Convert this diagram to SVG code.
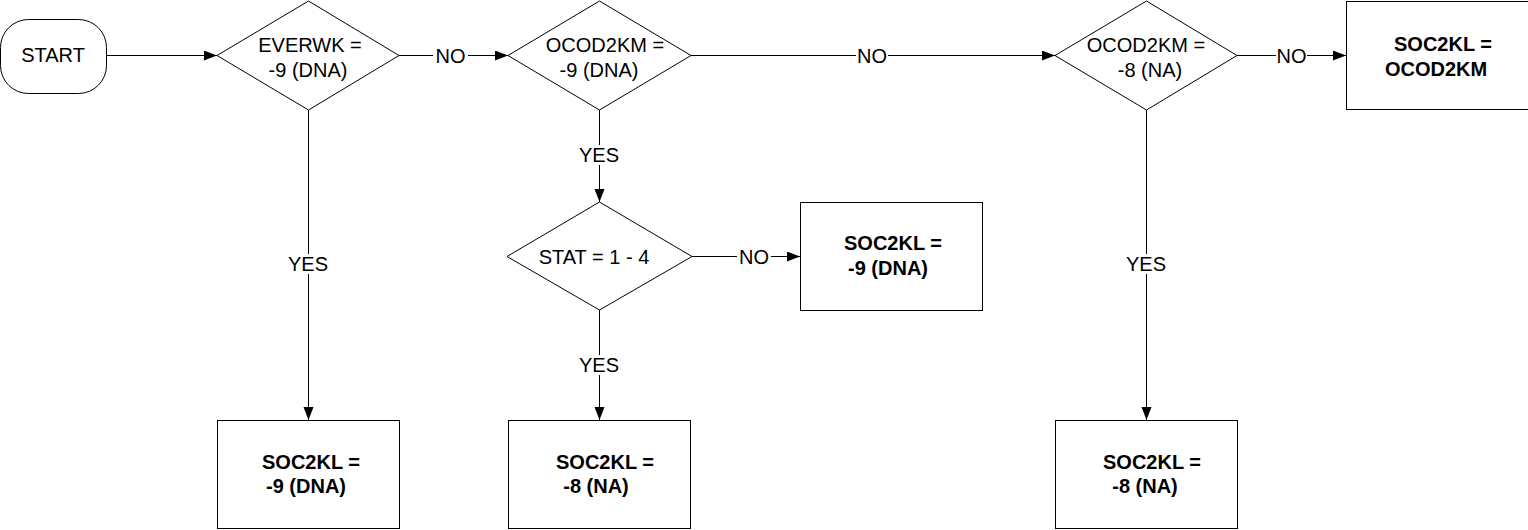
<svg xmlns="http://www.w3.org/2000/svg" width="1528" height="530" viewBox="0 0 1528 530">
<style>
  .shape { fill: #ffffff; stroke: #000000; stroke-width: 1; }
  .conn { fill: none; stroke: #000000; stroke-width: 1; marker-end: url(#arrow); }
  .t { font-family: "Liberation Sans", Arial, sans-serif; font-size: 20px; fill: #000000; text-anchor: middle; }
  .b { font-weight: bold; }
  .lblbg { fill: #ffffff; stroke: none; }
</style>
<defs>
  <marker id="arrow" markerUnits="userSpaceOnUse" markerWidth="14" markerHeight="11" refX="13" refY="5" orient="auto">
    <path d="M0,0 L13,5 L0,10 Z" fill="#000000"/>
  </marker>
</defs>
<rect x="0" y="0" width="1528" height="530" fill="#ffffff"/>

<g id="connectors">
  <line class="conn" x1="107" y1="55.5" x2="217" y2="55.5"/>
  <line class="conn" x1="399" y1="55.5" x2="508" y2="55.5"/>
  <line class="conn" x1="691" y1="55.5" x2="1055" y2="55.5"/>
  <line class="conn" x1="1237" y1="55.5" x2="1346" y2="55.5"/>
  <line class="conn" x1="308.5" y1="110" x2="308.5" y2="420"/>
  <line class="conn" x1="599.5" y1="110" x2="599.5" y2="202"/>
  <line class="conn" x1="599.5" y1="310" x2="599.5" y2="420"/>
  <line class="conn" x1="692" y1="256.5" x2="800" y2="256.5"/>
  <line class="conn" x1="1146.5" y1="110" x2="1146.5" y2="420"/>
  <g id="labels">
    <rect class="lblbg" x="433" y="45" width="35" height="20"/>
    <text class="t" x="450.5" y="62.5">NO</text>
    <rect class="lblbg" x="856" y="45" width="32" height="20"/>
    <text class="t" x="872" y="62.5">NO</text>
    <rect class="lblbg" x="1276" y="45" width="31" height="20"/>
    <text class="t" x="1291.5" y="62.5">NO</text>
    <rect class="lblbg" x="737" y="246" width="34" height="20"/>
    <text class="t" x="754" y="263.5">NO</text>
    <rect class="lblbg" x="285" y="254" width="46" height="20"/>
    <text class="t" x="308" y="271">YES</text>
    <rect class="lblbg" x="576" y="145" width="46" height="20"/>
    <text class="t" x="599" y="162">YES</text>
    <rect class="lblbg" x="576" y="355" width="46" height="20"/>
    <text class="t" x="599" y="372">YES</text>
    <rect class="lblbg" x="1123" y="254" width="46" height="20"/>
    <text class="t" x="1146" y="271">YES</text>
  </g>
</g>

<g id="start">
  <rect class="shape" x="0.5" y="19.5" width="106" height="74" rx="28" ry="28"/>
  <text class="t" x="53" y="62">START</text>
</g>

<g id="d_everwk">
  <polygon class="shape" points="308.5,1 399,55.5 308.5,110 217,55.5"/>
  <text class="t" x="310" y="52">EVERWK =</text>
  <text class="t" x="308" y="77">-9 (DNA)</text>
</g>

<g id="d_ocod9">
  <polygon class="shape" points="599.5,1 691,55.5 599.5,110 508,55.5"/>
  <text class="t" x="605" y="52">OCOD2KM =</text>
  <text class="t" x="599" y="77">-9 (DNA)</text>
</g>

<g id="d_ocod8">
  <polygon class="shape" points="1146.5,1 1237,55.5 1146.5,110 1055,55.5"/>
  <text class="t" x="1146" y="52">OCOD2KM =</text>
  <text class="t" x="1150" y="77">-8 (NA)</text>
</g>

<g id="d_stat">
  <polygon class="shape" points="599.5,202 692,256.5 599.5,310 507,256.5"/>
  <text class="t" x="594" y="264">STAT = 1 - 4</text>
</g>

<g id="box_ocod">
  <rect class="shape" x="1346.5" y="1.5" width="182" height="108"/>
  <text class="t b" x="1443" y="51">SOC2KL =</text>
  <text class="t b" x="1436" y="76">OCOD2KM</text>
</g>

<g id="box_stat_no">
  <rect class="shape" x="800.5" y="202.5" width="182" height="108"/>
  <text class="t b" x="893" y="250">SOC2KL =</text>
  <text class="t b" x="888" y="275">-9 (DNA)</text>
</g>

<g id="box_everwk_yes">
  <rect class="shape" x="217.5" y="420.5" width="182" height="108"/>
  <text class="t b" x="311" y="469">SOC2KL =</text>
  <text class="t b" x="306" y="493">-9 (DNA)</text>
</g>

<g id="box_stat_yes">
  <rect class="shape" x="508.5" y="420.5" width="182" height="108"/>
  <text class="t b" x="605" y="469">SOC2KL =</text>
  <text class="t b" x="596" y="493">-8 (NA)</text>
</g>

<g id="box_ocod8_yes">
  <rect class="shape" x="1055.5" y="420.5" width="182" height="108"/>
  <text class="t b" x="1152" y="469">SOC2KL =</text>
  <text class="t b" x="1145" y="493">-8 (NA)</text>
</g>
</svg>
